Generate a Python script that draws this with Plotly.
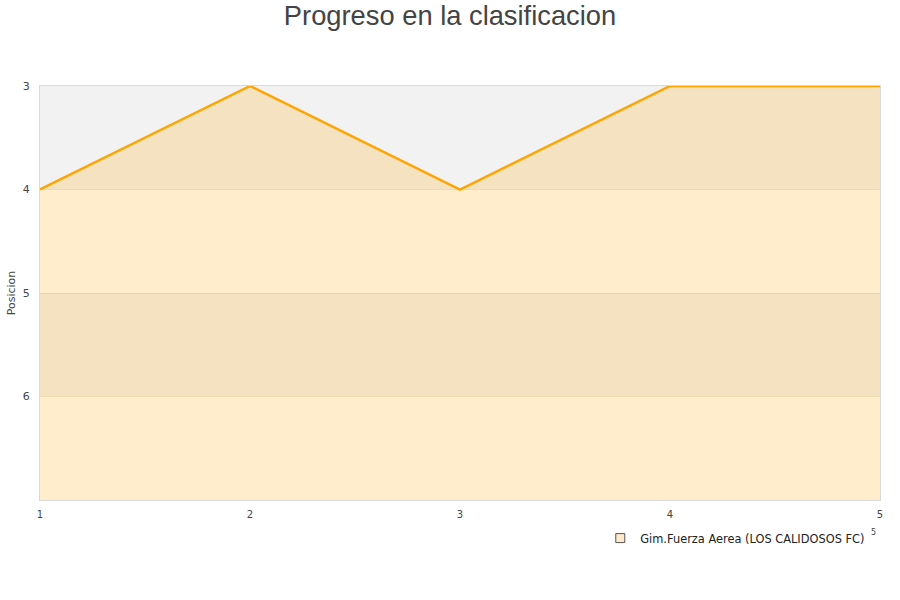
import plotly.graph_objects as go

jornadas = [1, 2, 3, 4, 5]
posiciones = [4, 3, 4, 3, 3]
equipo = "Gim.Fuerza Aerea (LOS CALIDOSOS FC)"
y_ticks = [3, 4, 5, 6]
y_min, y_max = 3, 7

fig = go.Figure()

# alternating bands
for i, lo in enumerate(range(y_min, y_max)):
    fig.add_shape(type="rect", xref="paper", yref="y", x0=0, x1=1, y0=lo, y1=lo + 1,
                  fillcolor="#f2f2f2" if i % 2 == 0 else "#ffffff",
                  line=dict(width=0), layer="below")

# baseline for fill
fig.add_trace(go.Scatter(x=jornadas, y=[y_max] * len(jornadas), mode="lines",
                         line=dict(width=0), showlegend=False, hoverinfo="skip"))
fig.add_trace(go.Scatter(x=jornadas, y=posiciones, mode="lines", fill="tonexty",
                         fillcolor="rgba(255,165,0,0.2)",
                         line=dict(color="#ffa500", width=2.5),
                         name=equipo, showlegend=False))
# legend entry
fig.add_trace(go.Scatter(x=[None], y=[None], mode="markers", name=equipo,
                         marker=dict(symbol="square", size=9, color="#ffebcc",
                                     line=dict(color="#555555", width=1))))

fig.add_annotation(text="5", x=0.987, y=-0.079, xref="paper", yref="paper",
                   showarrow=False, font=dict(size=8, color="#444444"),
                   xanchor="left", yanchor="middle")

fig.update_layout(
    width=900, height=600,
    paper_bgcolor="white", plot_bgcolor="rgba(0,0,0,0)",
    margin=dict(l=40, r=20, t=86, b=100, autoexpand=False),
    title=dict(text="Progreso en la clasificacion", x=0.5, xanchor="center",
               y=0.975, yanchor="middle", yref="container",
               font=dict(family="Liberation Sans", size=27.3, color="#444444")),
    font=dict(family="DejaVu Sans", size=11, color="#444444"),
    xaxis=dict(range=[1, 5], tickvals=jornadas, showgrid=False, zeroline=False,
               showline=True, linecolor="#d9d9d9", mirror=True, ticks="",
               ticklabelstandoff=5, automargin=False,
               tickfont=dict(size=10)),
    yaxis=dict(range=[y_max, y_min], tickvals=y_ticks, showgrid=True,
               gridcolor="rgba(200,170,120,0.25)", zeroline=False,
               showline=True, linecolor="#d9d9d9", mirror=True, ticks="",
               ticklabelstandoff=7, tickfont=dict(size=11), automargin=False,
               title=dict(text="Posicion", font=dict(size=11), standoff=4)),
    legend=dict(orientation="h", x=0.667, xanchor="left", y=-0.092, yanchor="middle",
                font=dict(size=11.4, color="#222222"), itemwidth=30,
                bgcolor="rgba(0,0,0,0)"),
    showlegend=True,
)

fig.write_html("out.html", config={"displayModeBar": False},
               post_script="document.body.style.margin='0';")
